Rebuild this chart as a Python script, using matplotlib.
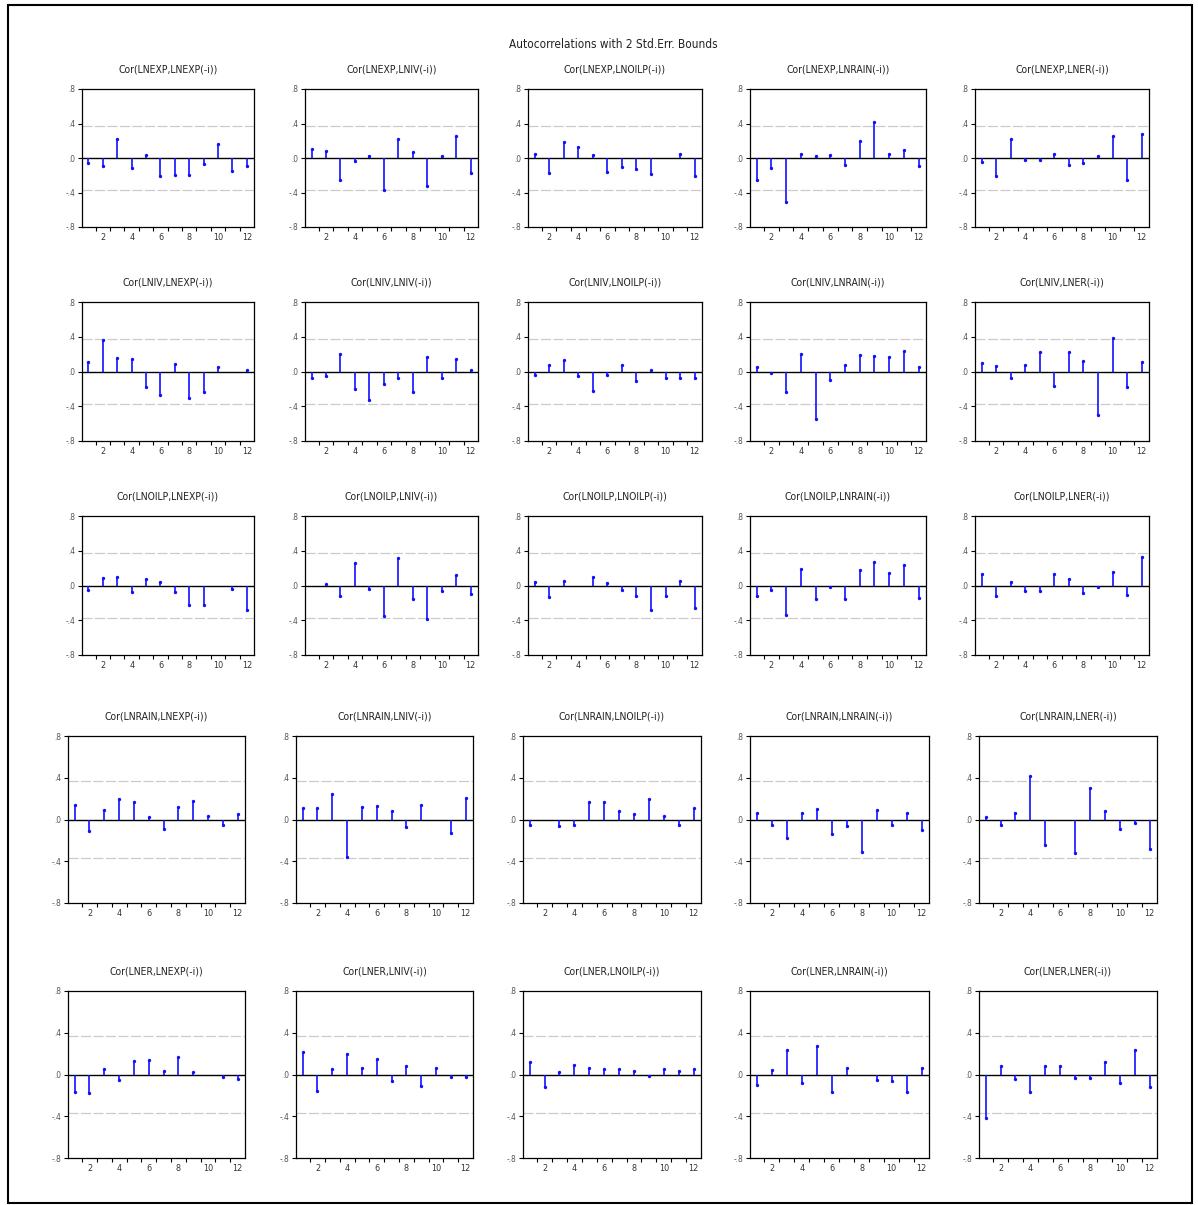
import matplotlib
matplotlib.use("Agg")
import matplotlib.pyplot as plt
import numpy as np

VARS = ["LNEXP", "LNIV", "LNOILP", "LNRAIN", "LNER"]
LAGS = list(range(1, 13))
BOUND = 0.37

LNEXP_CORR = [
    [-0.06, -0.09, 0.22, -0.12, 0.03, -0.21, -0.20, -0.20, -0.07, 0.16, -0.15, -0.09],
    [0.10, 0.08, -0.25, -0.035, 0.02, -0.37, 0.22, 0.07, -0.32, 0.02, 0.25, -0.17],
    [0.05, -0.17, 0.18, 0.13, 0.035, -0.16, -0.10, -0.13, -0.18, 0.0, 0.05, -0.21],
    [-0.25, -0.12, -0.51, 0.05, 0.02, 0.035, -0.08, 0.20, 0.42, 0.05, 0.09, -0.09],
    [-0.05, -0.21, 0.22, -0.02, -0.02, 0.05, -0.08, -0.06, 0.02, 0.25, -0.26, 0.28],
]
LNIV_CORR = [
    [0.11, 0.36, 0.16, 0.145, -0.18, -0.27, 0.09, -0.30, -0.24, 0.05, 0.0, 0.02],
    [-0.07, -0.05, 0.20, -0.20, -0.33, -0.14, -0.08, -0.24, 0.17, -0.08, 0.145, 0.02],
    [-0.04, 0.07, 0.13, -0.05, -0.22, -0.04, 0.07, -0.11, 0.02, -0.08, -0.07, -0.08],
    [0.055, -0.02, -0.24, 0.20, -0.55, -0.10, 0.08, 0.19, 0.18, 0.165, 0.235, 0.05],
    [0.10, 0.06, -0.07, 0.08, 0.22, -0.17, 0.22, 0.125, -0.50, 0.38, -0.18, 0.11],
]
LNOILP_CORR = [
    [-0.05, 0.09, 0.10, -0.08, 0.07, 0.035, -0.08, -0.22, -0.22, 0.0, -0.035, -0.28],
    [0.0, 0.02, -0.125, 0.26, -0.04, -0.35, 0.32, -0.15, -0.38, -0.06, 0.125, -0.10],
    [0.035, -0.13, 0.055, 0.0, 0.10, 0.025, -0.05, -0.125, -0.28, -0.12, 0.055, -0.26],
    [-0.125, -0.05, -0.34, 0.19, -0.155, -0.02, -0.155, 0.175, 0.27, 0.145, 0.24, -0.14],
    [0.13, -0.125, 0.04, -0.06, -0.06, 0.13, 0.08, -0.09, -0.02, 0.16, -0.11, 0.33],
]
LNRAIN_CORR = [
    [0.135, -0.11, 0.09, 0.20, 0.17, 0.02, -0.09, 0.12, 0.18, 0.03, -0.05, 0.05],
    [0.11, 0.11, 0.24, -0.36, 0.12, 0.13, 0.08, -0.075, 0.135, 0.0, -0.125, 0.21],
    [-0.05, 0.0, -0.06, -0.05, 0.17, 0.165, 0.08, 0.05, 0.20, 0.03, -0.05, 0.11],
    [0.065, -0.05, -0.18, 0.065, 0.105, -0.14, -0.065, -0.31, 0.09, -0.05, 0.065, -0.10],
    [0.02, -0.05, 0.065, 0.42, -0.24, 0.0, -0.32, 0.30, 0.08, -0.09, -0.03, -0.28],
]
LNER_CORR = [
    [-0.17, -0.18, 0.05, -0.05, 0.13, 0.14, 0.03, 0.17, 0.02, 0.0, -0.02, -0.04],
    [0.22, -0.16, 0.05, 0.20, 0.06, 0.15, -0.06, 0.08, -0.11, 0.06, -0.02, -0.02],
    [0.12, -0.12, 0.02, 0.09, 0.06, 0.05, 0.05, 0.03, -0.01, 0.05, 0.03, 0.05],
    [-0.10, 0.04, 0.23, -0.08, 0.27, -0.17, 0.06, 0.0, -0.05, -0.06, -0.17, 0.06],
    [-0.42, 0.08, -0.04, -0.17, 0.08, 0.08, -0.03, -0.03, 0.12, -0.08, 0.23, -0.12],
]
ALL_CORR = [LNEXP_CORR, LNIV_CORR, LNOILP_CORR, LNRAIN_CORR, LNER_CORR]

YTICKS = [-0.8, -0.4, 0.0, 0.4, 0.8]
YTICK_LABELS = ["-.8", "-.4", ".0", ".4", ".8"]
XTICK_LABELS = ["2", "4", "6", "8", "10", "12"]

plt.rcParams["font.family"] = ["Liberation Sans Narrow", "DejaVu Sans"]
plt.rcParams["font.stretch"] = "condensed"

W, H = 1198, 1205
fig = plt.figure(figsize=(W / 100, H / 100), dpi=100)
fig.patch.set_facecolor("white")

# outer frame
fig.add_artist(plt.Rectangle((8 / W, 1 - 1203 / H), 1184 / W, 1198 / H,
                             transform=fig.transFigure, fill=False,
                             edgecolor="black", linewidth=1.5))

fig.text(613 / W, 1 - 44 / H, "Autocorrelations with 2 Std.Err. Bounds",
         ha="center", va="center", fontsize=8.5, color="#222222")

# pixel boxes (left, right) per column and (top, bottom) per row
COLS_TOP = [(82, 254), (305, 478), (528, 702), (750, 926), (975, 1149)]
COLS_BOT = [(68, 245), (296, 473), (523, 701), (750, 929), (979, 1157)]
ROWS = [(89, 227), (302, 441), (516, 655), (736, 903), (991, 1158)]


def style_ax(ax):
    ax.set_xlim(0.55, 12.5)
    ax.set_ylim(-0.8, 0.8)
    ax.set_yticks(YTICKS)
    ax.set_yticklabels(YTICK_LABELS)
    ax.set_xticks(np.arange(1.5, 12.0, 1.0))
    ax.set_xticklabels([])
    ax.set_xticks([2, 4, 6, 8, 10, 12], minor=True)
    ax.set_xticklabels(XTICK_LABELS, minor=True)
    ax.tick_params(axis="x", which="major", direction="out", length=3, width=0.8)
    ax.tick_params(axis="x", which="minor", length=0, labelsize=6.5,
                   colors="#333333", pad=4)
    ax.tick_params(axis="y", direction="out", length=3, width=0.8,
                   labelsize=6, labelcolor="#555555", pad=2)
    for spine in ax.spines.values():
        spine.set_linewidth(0.9)


for i, row_data in enumerate(ALL_CORR):
    top, bot = ROWS[i]
    cols = COLS_TOP if i < 3 else COLS_BOT
    for j, vals in enumerate(row_data):
        left, right = cols[j]
        ax = fig.add_axes([left / W, 1 - bot / H, (right - left) / W, (bot - top) / H])
        for b in (BOUND, -BOUND):
            ax.axhline(b, color="#cccccc", linewidth=0.9, linestyle=(0, (8, 2)))
        ax.axhline(0, color="black", linewidth=1.0)
        ax.vlines(LAGS, 0, vals, color="#1010ff", linewidth=1.2)
        tips = np.ma.masked_equal(np.array(vals), 0.0)
        ax.plot(LAGS, tips, linestyle="none", marker="o", markersize=1.4,
                color="#1010ff")
        style_ax(ax)
        ax.set_title(f"Cor({VARS[i]},{VARS[j]}(-i))", fontsize=7.5,
                     color="#222222", pad=12)

plt.savefig("out.png", dpi=100)
